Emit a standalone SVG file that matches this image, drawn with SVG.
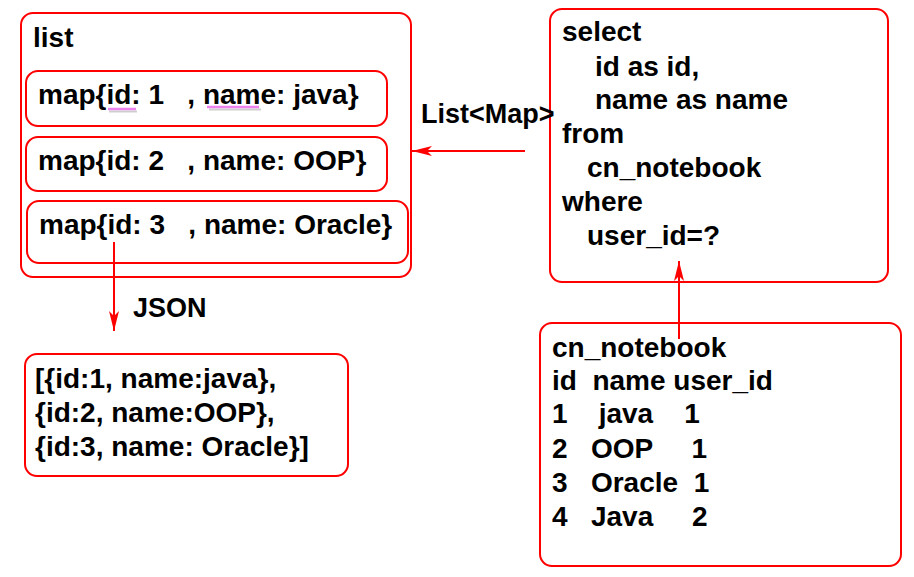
<svg xmlns="http://www.w3.org/2000/svg" width="914" height="577" viewBox="0 0 914 577">
<style>
.box{fill:#fff;stroke:#ff0000;stroke-width:2}
.t{font-family:"Liberation Sans",Arial,sans-serif;font-weight:bold;font-size:28px;fill:#000}
.c{stroke:#ff0000;stroke-width:2;fill:none}
.ul{stroke:#ee82ee;stroke-width:2.5;fill:none}
.sh{stroke:#bbbbbb;stroke-width:2;fill:none;opacity:0.7}
</style>
<defs>
<marker id="ah" viewBox="0 0 20 10" refX="20" refY="5" markerWidth="20" markerHeight="10" markerUnits="userSpaceOnUse" orient="auto">
<path d="M0,0 L20,5 L0,10 L5,5 Z" fill="#ff0000"/>
</marker>
</defs>
<rect width="914" height="577" fill="#fff"/>
<g id="list">
<rect class="box" x="21" y="13" width="390" height="264" rx="12"/>
<text class="t" x="33" y="47">list</text>
</g>
<g id="map1">
<rect class="box" x="26" y="71" width="361" height="55" rx="12"/>
<path class="sh" d="M109,111.5 H137 M209,109.5 H261"/>
<path class="ul" d="M108,109 H136 M207,107 H259"/>
<text class="t" x="38" y="104" xml:space="preserve">map{id: 1   , name: java}</text>
</g>
<g id="map2">
<rect class="box" x="26" y="137" width="361" height="54" rx="12"/>
<text class="t" x="38" y="170" xml:space="preserve">map{id: 2   , name: OOP}</text>
</g>
<g id="map3">
<rect class="box" x="27" y="201" width="381" height="62" rx="12"/>
<text class="t" x="39" y="234" xml:space="preserve">map{id: 3   , name: Oracle}</text>
</g>
<g id="sql">
<rect class="box" x="550" y="9" width="338" height="273" rx="12"/>
<text class="t" x="562" y="41">select</text>
<text class="t" x="595" y="76">id as id,</text>
<text class="t" x="595" y="109">name as name</text>
<text class="t" x="562" y="143">from</text>
<text class="t" x="587" y="177">cn_notebook</text>
<text class="t" x="562" y="211">where</text>
<text class="t" x="587" y="245">user_id=?</text>
</g>
<g id="json">
<rect class="box" x="25" y="354" width="323" height="122" rx="12"/>
<text class="t" x="35" y="388">[{id:1, name:java},</text>
<text class="t" x="35" y="422">{id:2, name:OOP},</text>
<text class="t" x="35" y="456">{id:3, name: Oracle}]</text>
</g>
<g id="table">
<rect class="box" x="540" y="323" width="361" height="243" rx="12"/>
<text class="t" x="552" y="357">cn_notebook</text>
<text class="t" x="552" y="390" xml:space="preserve">id  name user_id</text>
<text class="t" x="552" y="423" xml:space="preserve">1    java    1</text>
<text class="t" x="552" y="458" xml:space="preserve">2   OOP     1</text>
<text class="t" x="552" y="492" xml:space="preserve">3   Oracle  1</text>
<text class="t" x="552" y="526" xml:space="preserve">4   Java     2</text>
</g>
<g id="connectors">
<line class="c" x1="525" y1="151" x2="412" y2="151" marker-end="url(#ah)"/>
<text class="t" x="421" y="123" style="font-size:27px">List&lt;Map&gt;</text>
<line class="c" x1="114" y1="242" x2="114" y2="331" marker-end="url(#ah)"/>
<text class="t" x="133" y="317" style="font-size:27px">JSON</text>
<line class="c" x1="679" y1="339" x2="679" y2="261" marker-end="url(#ah)"/>
</g>
</svg>
